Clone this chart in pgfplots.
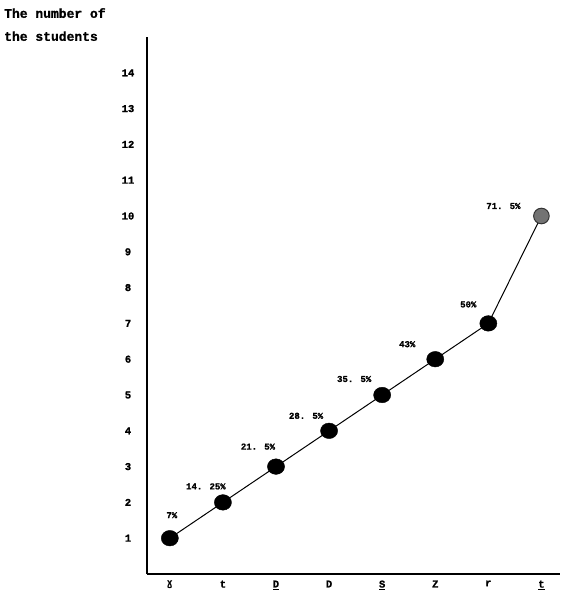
\documentclass[border=0pt]{standalone}
\usepackage{fontspec}
\setmainfont{Liberation Mono}[BoldFeatures={FakeBold=1.2}]
\setmonofont{Liberation Mono}
\newfontfamily\ipafont{DejaVu Sans Mono}
\usepackage{pgfplots}
\pgfplotsset{compat=1.18}
\begin{document}
\begin{tikzpicture}[x=1pt,y=1pt]
\useasboundingbox (0,0) rectangle (566,-599);
\node[anchor=north west, align=left, font=\bfseries\fontsize{13}{23}\selectfont, inner sep=0pt] at (4,-8) {The number of\\the students};
\begin{axis}[
  at={(147pt,-574pt)}, anchor=south west,
  scale only axis, width=413pt, height=537pt,
  xmin=-0.43, xmax=7.35, ymin=0, ymax=15,
  axis x line=bottom, axis y line=left,
  axis line style={-, line width=1.3pt, black},
  xtick={0,...,7},
  xticklabels={{\ipafont\bfseries ɣ}, t, \underline{D}, D, \underline{S}, Z, r, \underline{t}},
  ytick={1,...,14},
  major tick length=0pt, minor tick num=0,
  tick label style={font=\bfseries\fontsize{10.5}{12}\selectfont},
  yticklabel style={anchor=center, xshift=-19pt},
  xticklabel style={yshift=-3pt},
  /pgf/number format/assume math mode=true,
  clip=false,
]
\addplot[black, line width=1pt, mark=none] coordinates {(0,1) (1,2) (2,3) (3,4) (4,5) (5,6) (6,7) (7,10)};
\addplot[only marks, mark=*, mark size=7.8pt, mark options={fill=black, draw=black, xscale=1.1}] coordinates {(0,1) (1,2) (2,3) (3,4) (4,5) (5,6) (6,7)};
\addplot[only marks, mark=*, mark size=7.8pt, mark options={fill=black!55, draw=black!80, line width=1pt}] coordinates {(7,10)};
\begin{scope}[every node/.style={font=\bfseries\fontsize{9}{11}\selectfont}]
\node[xshift=2pt,yshift=23pt] at (axis cs:0,1) {7\%};
\node[xshift=-17pt,yshift=16pt] at (axis cs:1,2) {14. 25\%};
\node[xshift=-18pt,yshift=20pt] at (axis cs:2,3) {21. 5\%};
\node[xshift=-23pt,yshift=15pt] at (axis cs:3,4) {28. 5\%};
\node[xshift=-28pt,yshift=16pt] at (axis cs:4,5) {35. 5\%};
\node[xshift=-28pt,yshift=15pt] at (axis cs:5,6) {43\%};
\node[xshift=-20pt,yshift=19pt] at (axis cs:6,7) {50\%};
\node[xshift=-38pt,yshift=10pt] at (axis cs:7,10) {71. 5\%};
\end{scope}
\end{axis}
\end{tikzpicture}
\end{document}
